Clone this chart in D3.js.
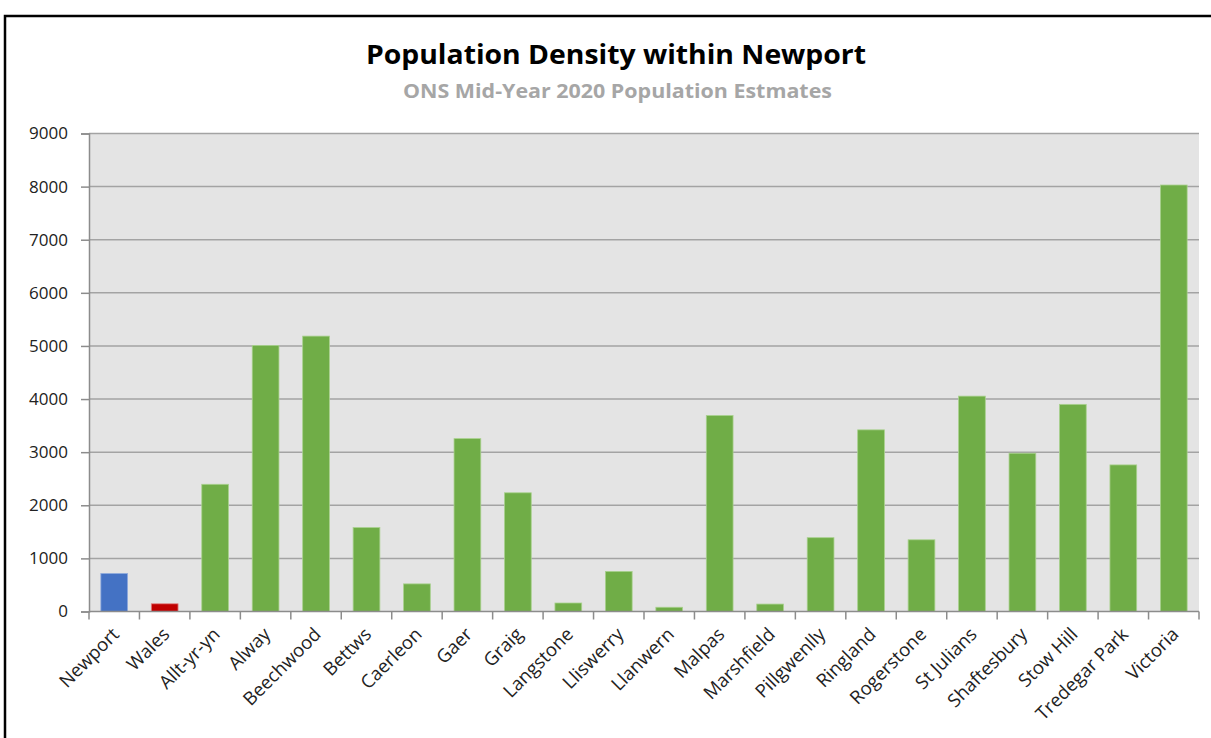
<!DOCTYPE html>
<html>
<head>
<meta charset="utf-8">
<script src="https://cdn.jsdelivr.net/npm/d3@7"></script>
<style>
  html, body { margin: 0; padding: 0; background: #ffffff; }
  svg { display: block; }
</style>
</head>
<body>
<div id="chart"></div>
<script>
const categories = ["Newport", "Wales", "Allt-yr-yn", "Alway", "Beechwood", "Bettws", "Caerleon", "Gaer", "Graig", "Langstone", "Lliswerry", "Llanwern", "Malpas", "Marshfield", "Pillgwenlly", "Ringland", "Rogerstone", "St Julians", "Shaftesbury", "Stow Hill", "Tredegar Park", "Victoria"];
const densities = [715, 145, 2395, 5010, 5185, 1580, 520, 3255, 2235, 160, 755, 80, 3690, 140, 1390, 3420, 1350, 4055, 2980, 3900, 2760, 8030];
const yTicks = [0, 1000, 2000, 3000, 4000, 5000, 6000, 7000, 8000, 9000];
const titleText = "Population Density within Newport";
const subtitleText = "ONS Mid-Year 2020 Population Estmates";

const W = 1211, H = 738;
const margin = { left: 89, right: 12, top: 133.5, bottom: 126.5 };
const innerW = W - margin.left - margin.right;
const innerH = H - margin.top - margin.bottom;

const colorFor = name => name === "Newport" ? "#4472c4" : (name === "Wales" ? "#c00000" : "#70ad47");
const strokeFor = name => name === "Newport" ? "#8faadc" : (name === "Wales" ? "#e08080" : "#a9d18e");

const svg = d3.select("#chart").append("svg").attr("width", W).attr("height", H);

// outer frame
svg.append("rect").attr("x", 5).attr("y", 16).attr("width", 1300).attr("height", 900)
  .attr("fill", "#ffffff").attr("stroke", "#000000").attr("stroke-width", 2.5);

const font = "'Open Sans', 'Noto Sans', sans-serif";

svg.append("text").attr("x", 616).attr("y", 64).attr("text-anchor", "middle")
  .attr("font-family", font).attr("font-weight", "bold").attr("font-size", 26)
  .attr("fill", "#000").attr("textLength", 500).attr("lengthAdjust", "spacingAndGlyphs")
  .text(titleText);
svg.append("text").attr("x", 617.5).attr("y", 98).attr("text-anchor", "middle")
  .attr("font-family", font).attr("font-weight", "bold").attr("font-size", 19.5)
  .attr("fill", "#a6a6a6").attr("textLength", 429).attr("lengthAdjust", "spacingAndGlyphs")
  .text(subtitleText);

const g = svg.append("g").attr("transform", `translate(${margin.left},${margin.top})`);

const x = d3.scaleBand().domain(categories).range([0, innerW]).paddingInner(0.47).paddingOuter(0.235);
const y = d3.scaleLinear().domain([0, 9000]).range([innerH, 0]);

// plot background
g.append("rect").attr("x", 0).attr("y", 0).attr("width", innerW).attr("height", innerH).attr("fill", "#e4e4e4");

// gridlines
g.append("g").selectAll("line").data(yTicks.filter(t => t > 0)).join("line")
  .attr("x1", 0).attr("x2", innerW)
  .attr("y1", d => y(d)).attr("y2", d => y(d))
  .attr("stroke", "#a3a3a3").attr("stroke-width", 1.5);

// bars
g.append("g").selectAll("rect").data(categories).join("rect")
  .attr("x", d => x(d)).attr("width", x.bandwidth())
  .attr("y", (d, i) => y(densities[i])).attr("height", (d, i) => innerH - y(densities[i]))
  .attr("fill", d => colorFor(d)).attr("stroke", d => strokeFor(d)).attr("stroke-width", 0.8);

// y axis
const yAxis = d3.axisLeft(y).tickValues(yTicks).tickSize(8).tickPadding(13).tickFormat(d3.format("d"));
const ya = g.append("g").call(yAxis);
ya.select(".domain").attr("stroke", "#8c8c8c").attr("stroke-width", 1.5);
ya.selectAll(".tick line").attr("stroke", "#8c8c8c").attr("stroke-width", 1.5);
ya.selectAll(".tick text").attr("font-family", "'Open Sans', sans-serif").attr("font-size", 17).attr("fill", "#222");

// x axis baseline and ticks between categories
const xa = g.append("g").attr("transform", `translate(0,${innerH})`);
xa.append("line").attr("x1", 0).attr("x2", innerW).attr("y1", 0).attr("y2", 0)
  .attr("stroke", "#8c8c8c").attr("stroke-width", 1.5);
const boundaries = d3.range(categories.length + 1).map(i => i * innerW / categories.length);
xa.selectAll("line.tk").data(boundaries).join("line").attr("class", "tk")
  .attr("x1", d => d).attr("x2", d => d).attr("y1", 0).attr("y2", 8)
  .attr("stroke", "#8c8c8c").attr("stroke-width", 1.5);

// x labels rotated
xa.selectAll("text.lbl").data(categories).join("text").attr("class", "lbl")
  .attr("transform", d => `translate(${x(d) + x.bandwidth() / 2 + 6},${24}) rotate(-45)`)
  .attr("text-anchor", "end")
  .attr("font-family", "'Open Sans', sans-serif").attr("font-size", 18.5)
  .attr("fill", "#222")
  .text(d => d);
</script>
</body>
</html>
